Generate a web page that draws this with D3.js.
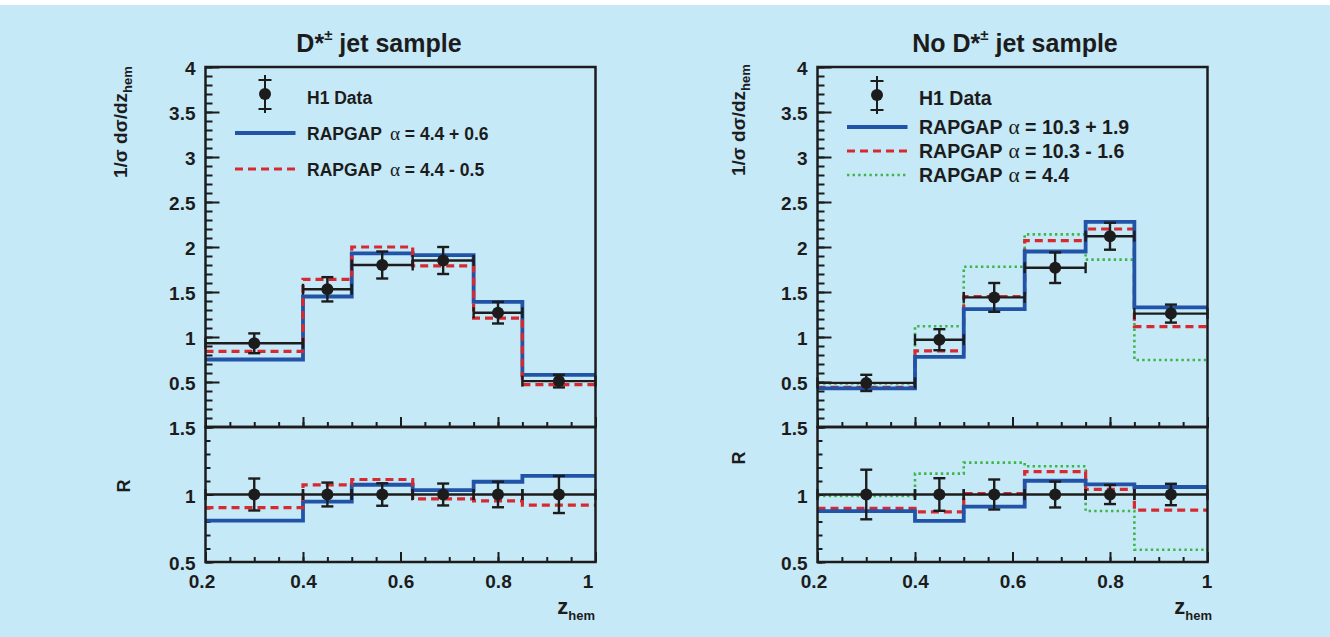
<!DOCTYPE html>
<html>
<head>
<meta charset="utf-8">
<script src="https://cdn.jsdelivr.net/npm/d3@7"></script>
<style>
  html, body { margin: 0; padding: 0; background: #c6e9f8; }
  svg { display: block; }
  text { font-family: "Liberation Sans", Arial, Helvetica, sans-serif; font-weight: bold; fill: #1c1c1c; }
</style>
</head>
<body>
<svg id="chart" width="1330" height="637"></svg>
<script>
// z_hem binning shared by both samples
const binEdges = [0.2, 0.4, 0.5, 0.625, 0.75, 0.85, 1.0];
const binCenters = [0.3, 0.45, 0.5625, 0.6875, 0.8, 0.925];

// D*± jet sample: normalised distribution
const dstarData = [0.93, 1.53, 1.80, 1.85, 1.27, 0.51];
const dstarErr = [0.11, 0.135, 0.15, 0.15, 0.12, 0.07];
const dstarRapgapUp = [0.75, 1.45, 1.93, 1.91, 1.39, 0.58];     // alpha = 4.4 + 0.6
const dstarRapgapDown = [0.84, 1.64, 2.00, 1.79, 1.21, 0.47];   // alpha = 4.4 - 0.5

// No D*± jet sample
const noDstarData = [0.49, 0.97, 1.44, 1.77, 2.12, 1.26];
const noDstarErr = [0.09, 0.117, 0.16, 0.17, 0.15, 0.10];
const noDstarRapgapUp = [0.43, 0.78, 1.31, 1.95, 2.28, 1.33];   // alpha = 10.3 + 1.9
const noDstarRapgapDown = [0.44, 0.845, 1.45, 2.07, 2.20, 1.115]; // alpha = 10.3 - 1.6
const noDstarRapgap44 = [0.485, 1.12, 1.78, 2.14, 1.86, 0.745]; // alpha = 4.4

// axis ticks
const xTicks = [0.2, 0.4, 0.6, 0.8, 1.0];
const xTickLabels = ["0.2", "0.4", "0.6", "0.8", "1"];
const distTicks = [0.5, 1, 1.5, 2, 2.5, 3, 3.5, 4];
const distTickLabels = ["0.5", "1", "1.5", "2", "2.5", "3", "3.5", "4"];
const ratioTicks = [0.5, 1, 1.5];
const ratioTickLabels = ["0.5", "1", "1.5"];

// ---------------------------------------------------------------
const svg = d3.select("#chart");
svg.append("rect").attr("width", 1330).attr("height", 637).attr("fill", "#c6e9f8");
svg.append("rect").attr("width", 1330).attr("height", 5).attr("fill", "#ffffff");

const FRAME_W = 390, TOP = 67, MID = 427, BOT = 562;
const INK = "#1c1c1c";
const STYLES = {
  up:      { stroke: "#2153a6", width: 3.8, dash: null },
  down:    { stroke: "#d62a30", width: 3.2, dash: "8,5" },
  nominal: { stroke: "#3cb54a", width: 2.6, dash: "2.4,3.2" }
};

const panels = [
  {
    x0: 205.5, titleCenter: 379, titleLead: "",
    data: dstarData, err: dstarErr,
    models: [
      { key: "up", values: dstarRapgapUp, label: "4.4 + 0.6" },
      { key: "down", values: dstarRapgapDown, label: "4.4 - 0.5" }
    ],
    legend: { font: 17.5, dataY: 94, rows: [133, 169], alphaGap: 8 },
    yTitle: { x: 127, y: 178 }, rTitle: { x: 130, y: 486 }, xTitleEnd: 595,
    firstDx: -4, lastDx: -8
  },
  {
    x0: 817.5, titleCenter: 1015, titleLead: "No ",
    data: noDstarData, err: noDstarErr,
    models: [
      { key: "nominal", values: noDstarRapgap44, label: "4.4" },
      { key: "down", values: noDstarRapgapDown, label: "10.3 - 1.6" },
      { key: "up", values: noDstarRapgapUp, label: "10.3 + 1.9" }
    ],
    legendOrder: ["up", "down", "nominal"],
    legend: { font: 19.5, dataY: 95, rows: [127, 151, 175], alphaGap: 6 },
    yTitle: { x: 745, y: 176 }, rTitle: { x: 745, y: 458 }, xTitleEnd: 1212,
    firstDx: -4, lastDx: -1
  }
];

function styleLine(sel, key) {
  const s = STYLES[key];
  sel.attr("fill", "none").attr("stroke", s.stroke).attr("stroke-width", s.width);
  if (s.dash) sel.attr("stroke-dasharray", s.dash);
  return sel;
}

function drawPanel(p) {
  const x = d3.scaleLinear().domain([0.2, 1.0]).range([p.x0, p.x0 + FRAME_W]);
  const yD = d3.scaleLinear().domain([0, 4]).range([MID, TOP]);
  const yR = d3.scaleLinear().domain([0.5, 1.5]).range([BOT, MID]);
  const g = svg.append("g");

  const clean = sel => { sel.select(".domain").remove(); sel.selectAll("line").attr("stroke", INK).attr("stroke-width", 2); };

  // ---- upper panel ticks
  g.append("g").attr("transform", `translate(${p.x0},0)`)
    .call(d3.axisLeft(yD).tickValues(d3.range(0, 4.001, 0.1)).tickSize(-7).tickFormat(""))
    .call(clean);
  g.append("g").attr("transform", `translate(${p.x0},0)`)
    .call(d3.axisLeft(yD).tickValues(distTicks).tickSize(-14).tickPadding(10)
      .tickFormat((d, i) => distTickLabels[i]))
    .call(clean)
    .call(s => s.selectAll("text").attr("font-size", 19).attr("dy", "0.42em")
      .attr("font-family", null).attr("fill", INK));
  g.append("g").attr("transform", `translate(0,${MID})`)
    .call(d3.axisBottom(x).tickValues(d3.range(0.2, 1.001, 0.05)).tickSize(-5).tickFormat(""))
    .call(clean);
  g.append("g").attr("transform", `translate(0,${MID})`)
    .call(d3.axisBottom(x).tickValues(xTicks).tickSize(-10).tickFormat(""))
    .call(clean);

  // ---- ratio panel ticks
  g.append("g").attr("transform", `translate(${p.x0},0)`)
    .call(d3.axisLeft(yR).tickValues(d3.range(0.5, 1.501, 0.1)).tickSize(-5).tickFormat(""))
    .call(clean);
  g.append("g").attr("transform", `translate(${p.x0},0)`)
    .call(d3.axisLeft(yR).tickValues(ratioTicks).tickSize(-8).tickPadding(10)
      .tickFormat((d, i) => ratioTickLabels[i]))
    .call(clean)
    .call(s => s.selectAll("text").attr("font-size", 19).attr("dy", "0.42em")
      .attr("font-family", null).attr("fill", INK));
  g.append("g").attr("transform", `translate(0,${BOT})`)
    .call(d3.axisBottom(x).tickValues(d3.range(0.2, 1.001, 0.05)).tickSize(-5).tickFormat(""))
    .call(clean);
  g.append("g").attr("transform", `translate(0,${BOT})`)
    .call(d3.axisBottom(x).tickValues(xTicks).tickSize(-10).tickPadding(13)
      .tickFormat((d, i) => xTickLabels[i]))
    .call(clean)
    .call(s => s.selectAll("text").attr("font-size", 19).attr("font-family", null).attr("fill", INK)
      .attr("dx", (d, i) => i === 0 ? p.firstDx : (i === xTicks.length - 1 ? p.lastDx : 0)));

  // ---- model histograms (outline steps)
  const stepPath = (vals, y) => d3.line()
    .x(d => x(d[0])).y(d => y(d[1])).curve(d3.curveStepAfter)(
      binEdges.map((e, i) => [e, vals[Math.min(i, vals.length - 1)]]));

  p.models.forEach(m => {
    g.append("path").attr("d", stepPath(m.values, yD)).call(styleLine, m.key);
    const ratio = m.values.map((v, i) => v / p.data[i]);
    g.append("path").attr("d", stepPath(ratio, yR)).call(styleLine, m.key);
  });

  // ---- data points with error bars
  function drawData(vals, errs, y) {
    const dg = g.append("g").attr("stroke", INK).attr("stroke-width", 2.4);
    vals.forEach((v, i) => {
      const xl = x(binEdges[i]), xr = x(binEdges[i + 1]), xc = x(binCenters[i]);
      const yc = y(v), yt = y(v + errs[i]), yb = y(v - errs[i]);
      dg.append("line").attr("x1", xl).attr("x2", xr).attr("y1", yc).attr("y2", yc);
      [xl, xr].forEach(xe => dg.append("line").attr("x1", xe).attr("x2", xe)
        .attr("y1", yc - 5.5).attr("y2", yc + 5.5));
      dg.append("line").attr("x1", xc).attr("x2", xc).attr("y1", yt).attr("y2", yb);
      [yt, yb].forEach(ye => dg.append("line").attr("x1", xc - 6).attr("x2", xc + 6)
        .attr("y1", ye).attr("y2", ye));
      dg.append("circle").attr("cx", xc).attr("cy", yc).attr("r", 6)
        .attr("fill", INK).attr("stroke", "none");
    });
  }
  drawData(p.data, p.err, yD);
  drawData(p.data.map(() => 1), p.err.map((e, i) => e / p.data[i]), yR);

  // ---- frames
  g.append("rect").attr("x", p.x0).attr("y", TOP).attr("width", FRAME_W).attr("height", MID - TOP)
    .attr("fill", "none").attr("stroke", INK).attr("stroke-width", 2.5);
  g.append("rect").attr("x", p.x0).attr("y", MID).attr("width", FRAME_W).attr("height", BOT - MID)
    .attr("fill", "none").attr("stroke", INK).attr("stroke-width", 2.5);

  // ---- legend
  const L = p.legend, mx = p.x0 + 59.5, tx = p.x0 + 101.5;
  const lg = g.append("g");
  const mk = lg.append("g").attr("stroke", INK).attr("stroke-width", 2);
  mk.append("line").attr("x1", mx).attr("x2", mx).attr("y1", L.dataY - 19).attr("y2", L.dataY + 19);
  [L.dataY - 14, L.dataY + 15].forEach(yy => mk.append("line")
    .attr("x1", mx - 6.5).attr("x2", mx + 6.5).attr("y1", yy).attr("y2", yy));
  mk.append("circle").attr("cx", mx).attr("cy", L.dataY).attr("r", 6).attr("fill", INK).attr("stroke", "none");
  lg.append("text").attr("x", tx).attr("y", L.dataY + 10).attr("font-size", L.font).text("H1 Data");

  const order = p.legendOrder || p.models.map(m => m.key);
  order.forEach((key, r) => {
    const m = p.models.find(mm => mm.key === key);
    const yy = L.rows[r];
    lg.append("line").attr("x1", p.x0 + 29.5).attr("x2", p.x0 + 90).attr("y1", yy).attr("y2", yy)
      .call(styleLine, key);
    const t = lg.append("text").attr("x", tx).attr("y", yy + 6.5).attr("font-size", L.font);
    t.append("tspan").text("RAPGAP");
    t.append("tspan").attr("dx", L.alphaGap)
      .attr("font-family", "'Liberation Serif', 'DejaVu Serif', serif").attr("font-weight", "normal")
      .attr("font-size", L.font * 1.1).text("α");
    t.append("tspan").text(" = " + m.label);
  });

  // ---- titles
  const title = g.append("text").attr("x", p.titleCenter).attr("y", 52)
    .attr("text-anchor", "middle").attr("font-size", 25);
  title.append("tspan").text(p.titleLead + "D*");
  title.append("tspan").attr("font-size", 15).attr("dy", -12).text("±");
  title.append("tspan").attr("dy", 12).text(" jet sample");

  const yt = g.append("text").attr("transform", `translate(${p.yTitle.x},${p.yTitle.y}) rotate(-90)`)
    .attr("font-size", 19);
  yt.append("tspan").text("1/σ dσ/dz");
  yt.append("tspan").attr("font-size", 13).attr("dy", 5).text("hem");

  g.append("text").attr("transform", `translate(${p.rTitle.x},${p.rTitle.y}) rotate(-90)`)
    .attr("text-anchor", "middle").attr("font-size", 18).text("R");

  const xt = g.append("text").attr("x", p.xTitleEnd).attr("y", 614)
    .attr("text-anchor", "end").attr("font-size", 22);
  xt.append("tspan").text("z");
  xt.append("tspan").attr("font-size", 13).attr("dy", 6).text("hem");
}

panels.forEach(drawPanel);
</script>
</body>
</html>
